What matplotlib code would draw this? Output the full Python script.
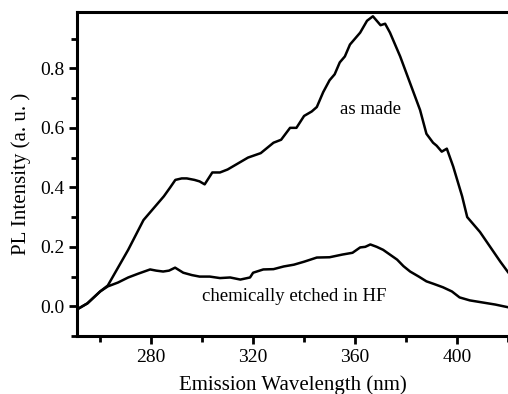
# PL spectra - as made vs. HF etched

import matplotlib
matplotlib.use('Agg')
import matplotlib.pyplot as plt
from matplotlib.ticker import MultipleLocator

plt.rcParams['font.family'] = ['Liberation Serif', 'DejaVu Serif']

# as made sample
wl_made = [251, 255, 260, 263, 267, 271, 274, 277, 281, 285, 287.5, 289.5, 292, 294,
           297, 299, 301, 304, 307, 310, 314, 318, 323, 328, 331, 334.5, 337, 340,
           343, 345, 347.5, 350, 352, 354, 356, 358, 360, 362, 364.7, 367, 368.5,
           370, 371.8, 373.7, 377.7, 381.6, 385.5, 388, 390.6, 392, 394, 396, 398.5,
           402, 404, 406, 409, 413, 417, 420]
pl_made = [-0.01, 0.01, 0.05, 0.07, 0.13, 0.19, 0.24, 0.29, 0.33, 0.37, 0.40, 0.425,
           0.43, 0.43, 0.425, 0.42, 0.41, 0.45, 0.45, 0.46, 0.48, 0.50, 0.515, 0.55,
           0.56, 0.60, 0.60, 0.64, 0.655, 0.67, 0.72, 0.76, 0.78, 0.82, 0.84, 0.88,
           0.90, 0.92, 0.96, 0.975, 0.96, 0.945, 0.95, 0.92, 0.84, 0.75, 0.66, 0.58,
           0.55, 0.54, 0.52, 0.53, 0.47, 0.37, 0.30, 0.28, 0.25, 0.20, 0.15, 0.115]

# chemically etched in HF
wl_etch = [251, 255, 260, 263, 267, 271, 275, 279.6, 282, 284.7, 287, 289.4, 292.6,
           296, 299, 303, 307, 311, 315, 318.8, 320, 324, 328, 332, 336, 340, 345,
           350, 355, 359, 362, 364, 366, 368.5, 371, 373.5, 376.5, 379, 381.6, 385,
           388, 391, 394.5, 398, 401, 405, 410, 415, 420]
pl_etch = [-0.01, 0.01, 0.05, 0.067, 0.08, 0.097, 0.11, 0.124, 0.12, 0.117, 0.12,
           0.13, 0.113, 0.105, 0.10, 0.10, 0.095, 0.097, 0.09, 0.097, 0.113, 0.124,
           0.125, 0.134, 0.14, 0.15, 0.164, 0.165, 0.174, 0.18, 0.198, 0.20, 0.208,
           0.20, 0.19, 0.175, 0.157, 0.135, 0.117, 0.10, 0.084, 0.075, 0.064, 0.05,
           0.03, 0.02, 0.013, 0.006, -0.003]

fig = plt.figure(figsize=(5.08, 3.94), dpi=100)
ax = fig.add_axes([0.152, 0.147, 0.848, 0.823])

ax.plot(wl_made, pl_made, 'k', lw=1.8)
ax.plot(wl_etch, pl_etch, 'k', lw=1.8)

ax.text(366, 0.66, 'as made', ha='center', va='center', fontsize=13.5)
ax.text(336, 0.034, 'chemically etched in HF', ha='center', va='center', fontsize=13.5)

ax.set_xlim(251, 420)
ax.set_ylim(-0.1, 0.99)
ax.xaxis.set_major_locator(MultipleLocator(40))
ax.xaxis.set_minor_locator(MultipleLocator(20))
ax.yaxis.set_major_locator(MultipleLocator(0.2))
ax.yaxis.set_minor_locator(MultipleLocator(0.1))
ax.yaxis.set_major_formatter(plt.FormatStrFormatter('%.1f'))

ax.tick_params(which='both', direction='out', width=2, labelsize=14)
ax.tick_params(which='major', length=6, pad=3)
ax.tick_params(which='minor', length=4)
for s in ['left', 'bottom', 'top']:
    ax.spines[s].set_linewidth(2.2)
ax.spines['right'].set_visible(False)

ax.set_xlabel('Emission Wavelength (nm)', fontsize=15, labelpad=7)
ax.set_ylabel('PL Intensity (a. u. )', fontsize=15, labelpad=7)

fig.savefig('out.png', dpi=100)
